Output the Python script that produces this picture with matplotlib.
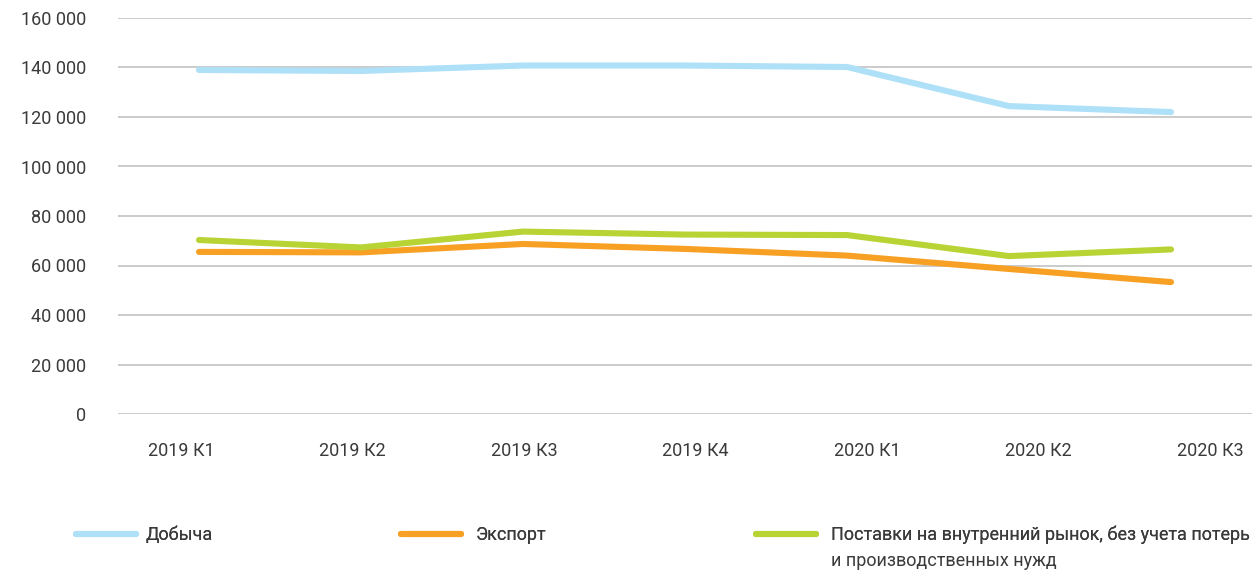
import matplotlib
matplotlib.use("Agg")
import matplotlib.pyplot as plt
import numpy as np

quarters = ["2019 К1", "2019 К2", "2019 К3", "2019 К4", "2020 К1", "2020 К2", "2020 К3"]
dobycha = [139000, 138600, 140800, 140800, 140200, 124400, 122000]
eksport = [65500, 65300, 68700, 66700, 64000, 58600, 53300]
postavki = [70300, 67300, 73700, 72500, 72300, 63800, 66500]
labels = ["Добыча", "Экспорт", "Поставки на внутренний рынок, без учета потерь"]
label3_cont = "и производственных нужд"
yticks = [0, 20000, 40000, 60000, 80000, 100000, 120000, 140000, 160000]

plt.rcParams["font.family"] = ["Roboto", "DejaVu Sans"]
TXT = "#3a3a3a"

fig = plt.figure(figsize=(12.52, 5.71), dpi=100)
ax = fig.add_axes([118 / 1252, 1 - 414 / 571, 1 - 118 / 1252, (414 - 18) / 571])

x = np.arange(len(quarters))
kw = dict(lw=4.4, solid_capstyle="round", solid_joinstyle="round")
l1, = ax.plot(x, dobycha, color="#AEE0F8", **kw)
l2, = ax.plot(x, eksport, color="#F8A023", **kw)
l3, = ax.plot(x, postavki, color="#B7D334", **kw)

ax.set_xlim(-0.5, len(quarters) - 0.5)
ax.set_ylim(0, 160000)
ax.set_yticks(yticks)
ax.set_yticklabels([f"{v:,}".replace(",", " ") for v in yticks])
ax.grid(axis="y", color="#BDBDBD", lw=1.1)
ax.set_axisbelow(True)
for s in ax.spines.values():
    s.set_visible(False)

# category labels in the source sit on a slightly wider spacing than the points
ax.set_xticks(-0.11 + 1.0586 * x)
ax.set_xticklabels(quarters)
ax.tick_params(axis="x", length=0, pad=20, labelsize=13, labelcolor=TXT)
ax.tick_params(axis="y", length=0, pad=23, labelsize=13, labelcolor=TXT)

# legend: three entries laid out like the source, one legend per column
leg_y = 1 - 535 / 571
legs = []
for h, lab, x0, tp in zip([l1, l2, l3], labels, [76, 401, 756], [0.55, 0.85, 0.85]):
    lg = fig.legend([h], [lab], loc="center left", bbox_to_anchor=(x0 / 1252, leg_y),
                    frameon=False, handlelength=3.3, handletextpad=tp,
                    borderpad=0, borderaxespad=0, prop={"size": 13}, labelcolor=TXT)
    fig.add_artist(lg)
    legs.append(lg)

fig.canvas.draw()
bb = legs[2].get_texts()[0].get_window_extent()
fig.text(bb.x0 / fig.bbox.width, 1 - 561 / 571, label3_cont, fontsize=13,
         color=TXT, va="center", ha="left")

fig.savefig("out.png", dpi=100)
